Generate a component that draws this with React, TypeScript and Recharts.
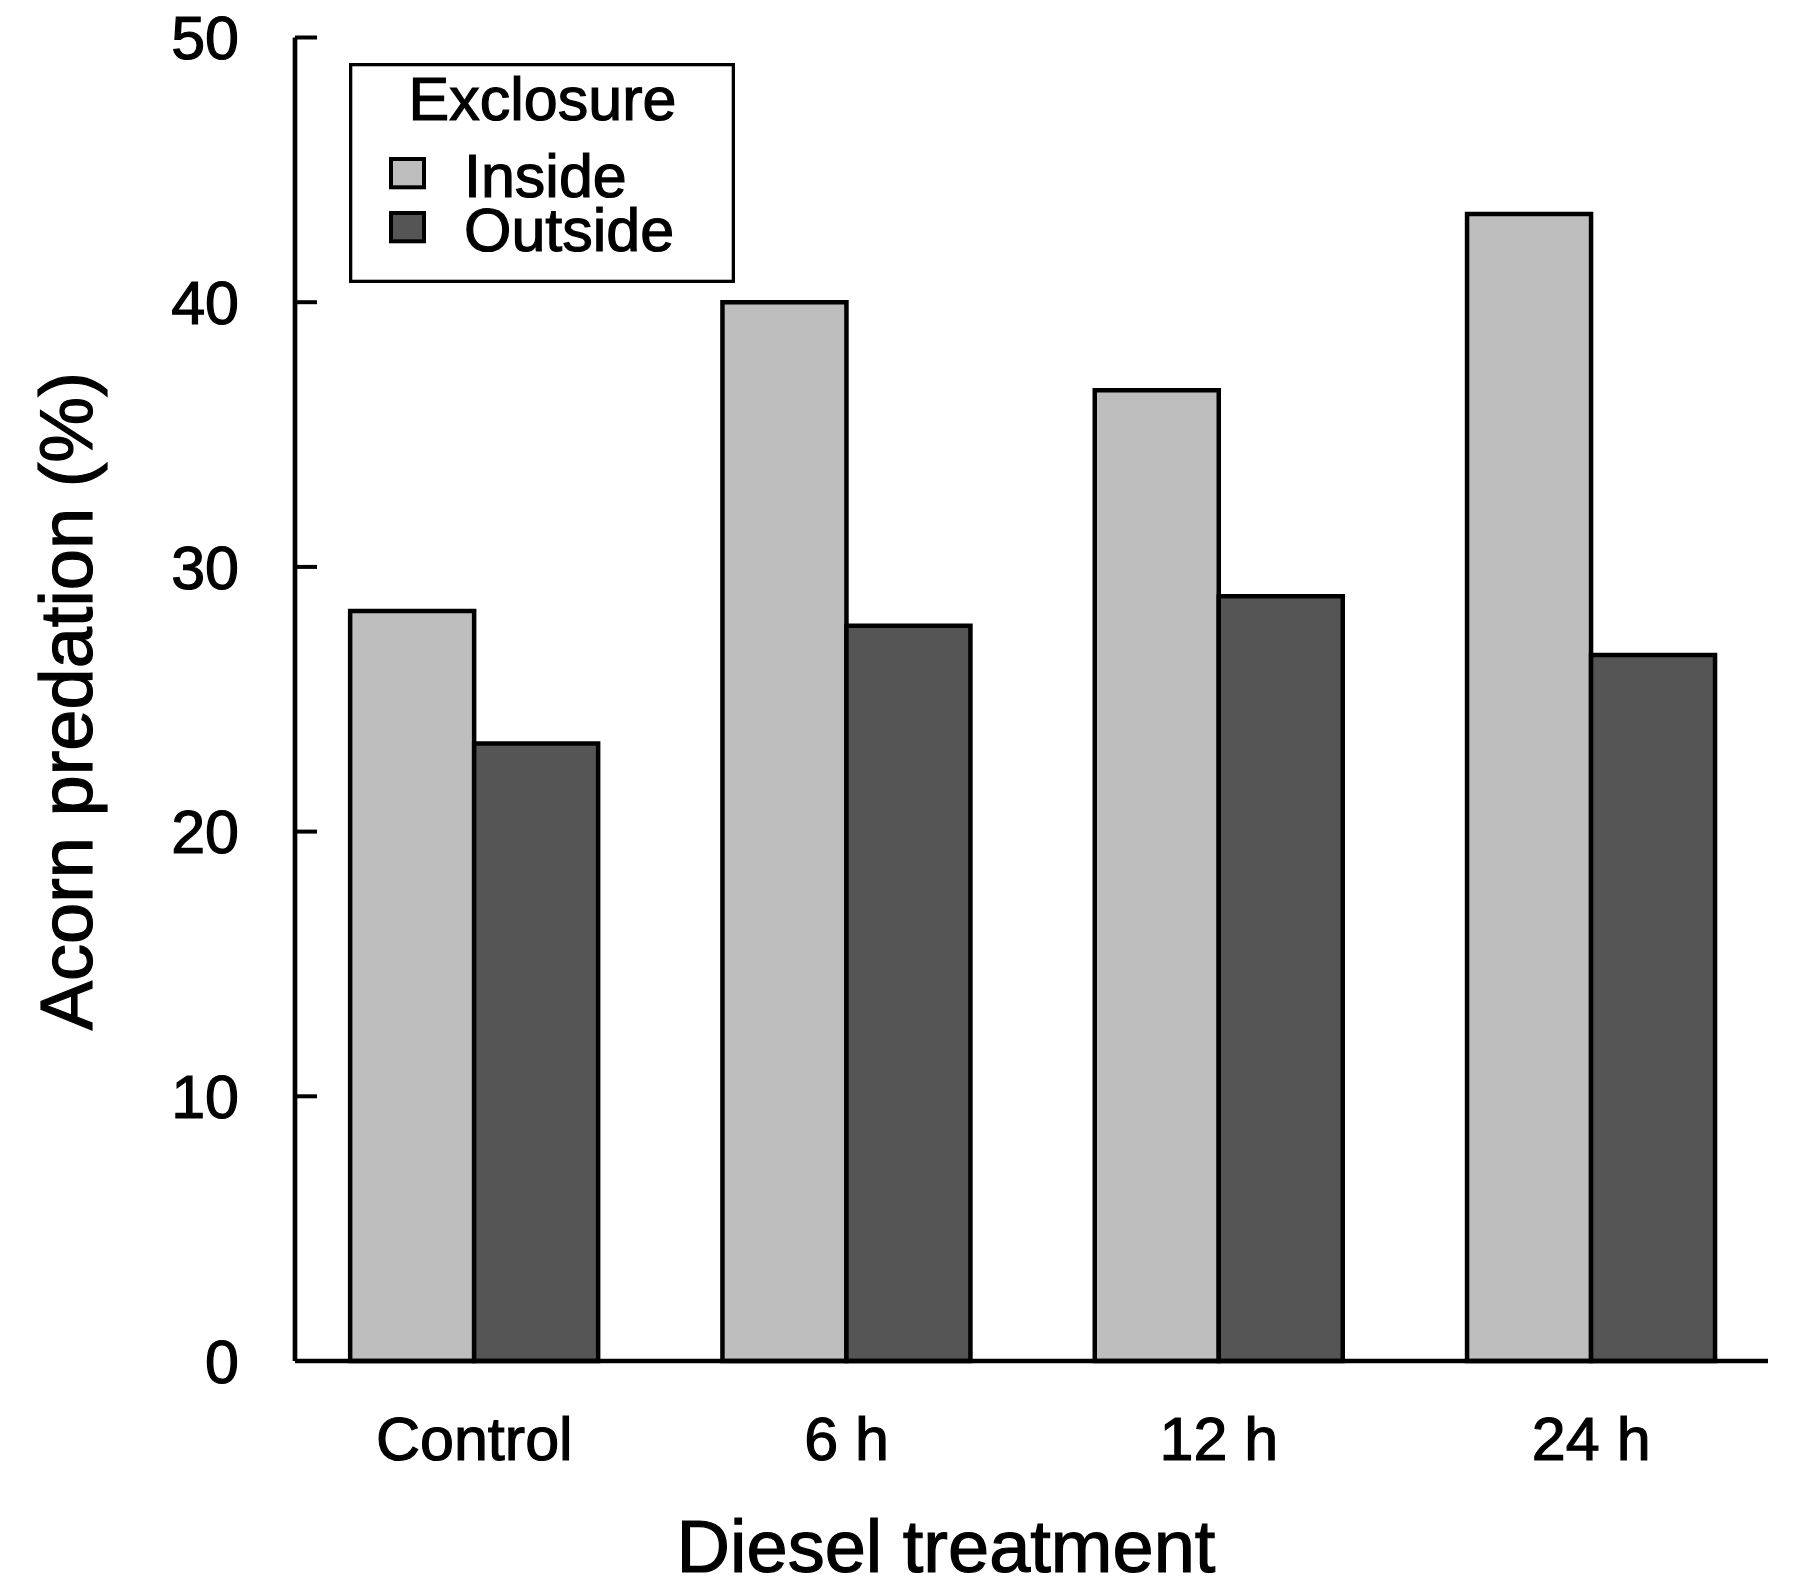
import React from 'react';
import { BarChart, Bar, XAxis, YAxis, Legend, Label } from 'recharts';

const treatments = ['Control', '6 h', '12 h', '24 h'];
const insideValues = [28.33, 40.0, 36.67, 43.33];
const outsideValues = [23.33, 27.78, 28.89, 26.67];
const yTicks = [0, 10, 20, 30, 40, 50];
const seriesNames = ['Inside', 'Outside'];
const seriesColors = ['#bebebe', '#555555'];
const legendTitle = 'Exclosure';
const xTitle = 'Diesel treatment';
const yTitle = 'Acorn predation (%)';

const data = treatments.map((t, i) => ({
  treatment: t,
  inside: insideValues[i],
  outside: outsideValues[i],
}));

const FONT = '"Liberation Sans", Arial, Helvetica, sans-serif';
const TEXT_STROKE = 1.2;

function LegendBox(props: any) {
  const payload = props.payload || [];
  return (
    <svg width={386} height={220} style={{ display: 'block' }}>
      <rect x={1.65} y={1.65} width={382.7} height={216.7} fill="#fff" stroke="#000" strokeWidth={3.3} />
      <text
        x={193.5}
        y={57.3}
        textAnchor="middle"
        fontSize={61}
        fontFamily={FONT}
        fill="#000"
        stroke="#000"
        strokeWidth={TEXT_STROKE}
      >
        {legendTitle}
      </text>
      {payload.map((entry: any, i: number) => (
        <g key={String(entry.value)}>
          <rect x={42} y={96 + i * 54} width={33} height={28.3} fill={entry.color} stroke="#000" strokeWidth={4} />
          <text
            x={115}
            y={134 + i * 54}
            fontSize={61}
            fontFamily={FONT}
            fill="#000"
            stroke="#000"
            strokeWidth={TEXT_STROKE}
          >
            {entry.value}
          </text>
        </g>
      ))}
    </svg>
  );
}

function YTitle(props: any) {
  const vb = props.viewBox || { x: 0, y: 37.5, width: 295, height: 1323.5 };
  const cx = 92;
  const cy = vb.y + vb.height / 2 + 2;
  return (
    <text
      x={cx}
      y={cy}
      transform={`rotate(-90, ${cx}, ${cy})`}
      textAnchor="middle"
      fontSize={74}
      fontFamily={FONT}
      fill="#000"
      stroke="#000"
      strokeWidth={TEXT_STROKE}
    >
      {yTitle}
    </text>
  );
}

function XTitle(props: any) {
  const vb = props.viewBox || { x: 295, y: 1361, width: 1473, height: 100 };
  const cx = vb.x + vb.width / 2 - 85.5;
  const cy = vb.y + 211;
  return (
    <text
      x={cx}
      y={cy}
      textAnchor="middle"
      fontSize={74}
      fontFamily={FONT}
      fill="#000"
      stroke="#000"
      strokeWidth={TEXT_STROKE}
    >
      {xTitle}
    </text>
  );
}

const tickStyle = {
  fill: '#000',
  fontSize: 61,
  fontFamily: FONT,
  stroke: '#000',
  strokeWidth: TEXT_STROKE,
};

export default function App() {
  return (
    <div style={{ position: 'absolute', left: 0, top: 0, width: 1794, height: 1593, background: '#fff' }}>
      <BarChart
        width={1794}
        height={1593}
        data={data}
        margin={{ top: 37.5, right: 26, left: 0, bottom: 132 }}
        barGap={0}
      >
        <XAxis
          dataKey="treatment"
          height={100}
          padding={{ left: -6.85, right: -9.35 }}
          axisLine={{ stroke: '#000', strokeWidth: 4.7 }}
          tickLine={false}
          tickSize={0}
          tickMargin={56}
          interval={0}
          tick={tickStyle}
        >
          <Label content={<XTitle />} />
        </XAxis>
        <YAxis
          type="number"
          domain={[0, 50]}
          ticks={yTicks}
          width={295}
          interval={0}
          tickSize={-22}
          tickMargin={78}
          axisLine={{ stroke: '#000', strokeWidth: 4.7 }}
          tickLine={{ stroke: '#000', strokeWidth: 4 }}
          tick={tickStyle}
        >
          <Label content={<YTitle />} />
        </YAxis>
        <Legend
          layout="horizontal"
          verticalAlign="middle"
          align="center"
          content={<LegendBox />}
          wrapperStyle={{ position: 'absolute', left: 349, top: 62.7, width: 386, height: 220 }}
        />
        <Bar
          dataKey="inside"
          name={seriesNames[0]}
          fill={seriesColors[0]}
          stroke="#000"
          strokeWidth={4.5}
          barSize={124}
          isAnimationActive={false}
        />
        <Bar
          dataKey="outside"
          name={seriesNames[1]}
          fill={seriesColors[1]}
          stroke="#000"
          strokeWidth={4.5}
          barSize={124}
          isAnimationActive={false}
        />
      </BarChart>
    </div>
  );
}
